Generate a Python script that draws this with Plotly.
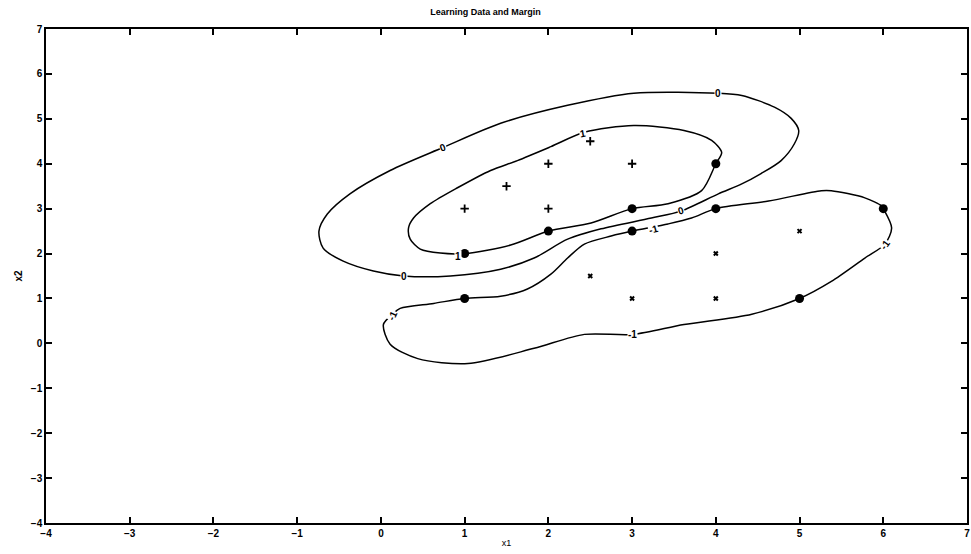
import plotly.graph_objects as go

# ---- data ----
plus_x = [1, 1.5, 2, 2, 2.5, 3]
plus_y = [3, 3.5, 4, 3, 4.5, 4]

cross_x = [2.5, 3, 4, 4, 5]
cross_y = [1.5, 1, 1, 2, 2.5]

sv_x = [1, 2, 3, 4, 1, 3, 4, 5, 6]
sv_y = [2, 2.5, 3, 4, 1, 2.5, 3, 1, 3]

# contour level 0 (decision boundary), traced
c0_x = [-0.64, -0.37, 0.11, 0.74, 1.43, 2.23, 3.02, 4.03, 4.31, 4.70, 4.90, 4.99, 4.94,
        4.78, 4.54, 4.31, 4.03, 3.59, 3.23, 2.63, 2.23, 1.83, 1.43, 0.83, 0.27, -0.09,
        -0.45, -0.69, -0.74, -0.64]
c0_y = [2.88, 3.33, 3.85, 4.36, 4.90, 5.30, 5.57, 5.57, 5.52, 5.26, 5.01, 4.74, 4.45,
        4.07, 3.78, 3.55, 3.33, 2.95, 2.79, 2.55, 2.32, 1.90, 1.65, 1.50, 1.50, 1.61,
        1.83, 2.12, 2.50, 2.88]

# contour level +1 (margin), traced
c1_x = [0.33, 0.39, 0.59, 0.92, 1.31, 1.63, 2.03, 2.43, 3.02, 3.62, 3.95, 4.07, 4.0,
        3.83, 3.43, 3.0, 2.51, 2.0, 1.55, 1.0, 0.71, 0.47, 0.35, 0.33]
c1_y = [2.57, 2.79, 3.11, 3.47, 3.85, 4.07, 4.38, 4.70, 4.85, 4.74, 4.52, 4.25, 4.0,
        3.40, 3.11, 3.0, 2.68, 2.5, 2.19, 2.0, 2.01, 2.10, 2.32, 2.57]

# contour level -1 (margin), traced
cm1_x = [0.03, 0.14, 0.23, 0.63, 1.0, 1.43, 1.75, 2.03, 2.23, 2.43, 2.75, 3.0, 3.43,
         3.71, 4.0, 4.63, 5.26, 5.38, 5.78, 5.98, 6.0, 6.10, 6.02, 5.78, 5.38, 5.0,
         4.43, 3.62, 3.01, 2.43, 1.83, 1.04, 0.44, 0.11, 0.03]
cm1_y = [0.42, 0.65, 0.78, 0.89, 1.0, 1.05, 1.21, 1.54, 1.90, 2.21, 2.39, 2.5, 2.66,
         2.79, 3.0, 3.17, 3.40, 3.40, 3.24, 3.06, 3.0, 2.57, 2.21, 1.90, 1.38, 1.0,
         0.65, 0.42, 0.20, 0.20, -0.11, -0.45, -0.34, -0.02, 0.42]

# contour labels: x, y, text, angle
lab_x = [0.74, 4.03, 3.59, 0.27, 2.41, 0.92, 0.14, 3.25, 6.02, 3.01]
lab_y = [4.36, 5.57, 2.95, 1.50, 4.67, 1.94, 0.62, 2.53, 2.21, 0.20]
lab_t = ["0", "0", "0", "0", "1", "1", "-1", "-1", "-1", "-1"]
lab_a = [-20, 0, -15, 0, -10, 0, -65, -15, -55, 0]

x_ticks = list(range(-4, 8))
y_ticks = list(range(-4, 8))

fig = go.Figure()
line_style = dict(color="black", width=1.5, shape="spline", smoothing=0.8)
for xs, ys in [(c0_x, c0_y), (c1_x, c1_y), (cm1_x, cm1_y)]:
    fig.add_trace(go.Scatter(x=xs, y=ys, mode="lines", line=line_style,
                             hoverinfo="skip", showlegend=False))

fig.add_trace(go.Scatter(x=plus_x, y=plus_y, mode="markers",
                         marker=dict(symbol="cross-thin", size=6, color="black",
                                     line=dict(color="black", width=1.8)),
                         showlegend=False))
fig.add_trace(go.Scatter(x=cross_x, y=cross_y, mode="markers",
                         marker=dict(symbol="x-thin", size=4, color="black",
                                     line=dict(color="black", width=2)),
                         showlegend=False))
fig.add_trace(go.Scatter(x=sv_x, y=sv_y, mode="markers",
                         marker=dict(symbol="circle", size=9, color="black"),
                         showlegend=False))

for x, y, t, a in zip(lab_x, lab_y, lab_t, lab_a):
    fig.add_annotation(x=x, y=y, text="<b>%s</b>" % t, showarrow=False,
                       textangle=a, bgcolor="white", borderpad=0,
                       font=dict(family="Arial", size=10, color="black"))

axis_common = dict(showline=True, linecolor="black", linewidth=1.5, mirror="ticks",
                   ticks="inside", ticklen=6, tickwidth=1.5, tickcolor="black",
                   showgrid=False, zeroline=False,
                   tickfont=dict(family="Arial", size=10, color="black", weight="bold"))

fig.update_xaxes(range=[-4, 7], tickvals=x_ticks, **axis_common,
                 title=dict(text="x1", font=dict(family="Arial", size=9, color="black"),
                            standoff=2))
fig.update_yaxes(range=[-4, 7], tickvals=y_ticks, **axis_common,
                 title=dict(text="<b>x2</b>", font=dict(family="Arial", size=10, color="black"),
                            standoff=6))

fig.update_layout(
    width=971, height=554,
    margin=dict(l=46, r=2, t=29, b=31),
    plot_bgcolor="white", paper_bgcolor="white",
    title=dict(text="<b>Learning Data and Margin</b>", x=0.5, xanchor="center",
               y=0.978, yanchor="middle",
               font=dict(family="Arial Narrow, Liberation Sans Narrow, Arial", size=9, color="black")),
)

fig.write_html("out.html")
